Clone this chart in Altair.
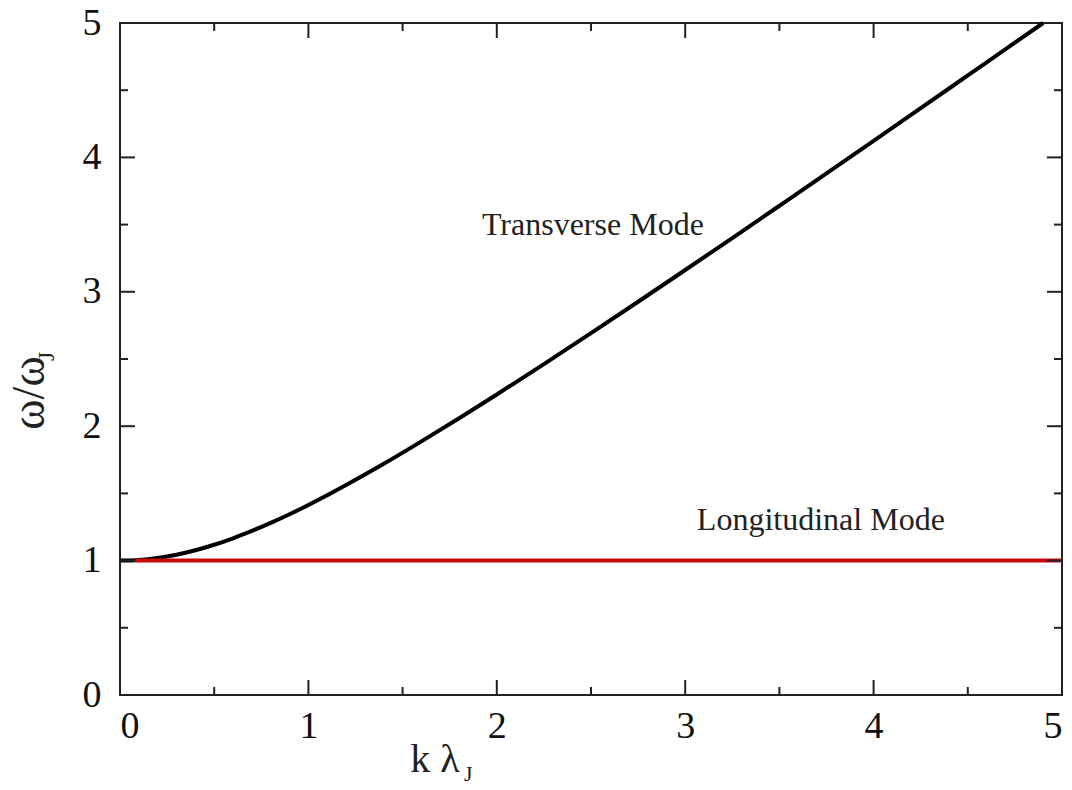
import altair as alt
import pandas as pd

# Dispersion relation omega/omega_J versus k*lambda_J
k_vals = [0.0, 0.1, 0.2, 0.3, 0.4, 0.5, 0.6, 0.7, 0.8, 0.9, 1.0, 1.1, 1.2, 1.4,
          1.6, 1.8, 2.0, 2.25, 2.5, 2.75, 3.0, 3.25, 3.5, 3.75, 4.0, 4.25, 4.5,
          4.75, 4.9]
transverse = [1.000, 1.005, 1.020, 1.044, 1.077, 1.118, 1.166, 1.221, 1.281,
              1.345, 1.414, 1.487, 1.562, 1.720, 1.887, 2.059, 2.236, 2.462,
              2.693, 2.926, 3.162, 3.400, 3.640, 3.881, 4.123, 4.366, 4.610,
              4.854, 5.000]
long_k = [0.08, 5.0]
longitudinal = [1.0, 1.0]

major_ticks = [0, 1, 2, 3, 4, 5]
minor_ticks = [0.5, 1.5, 2.5, 3.5, 4.5]

labels = ["Transverse Mode", "Longitudinal Mode"]
label_k = [2.51, 3.72]
label_w = [3.50, 1.30]

W, H = 942, 672
FONT = "Liberation Serif"

xs = alt.Scale(domain=[0, 5], nice=False, zero=False)
ys = alt.Scale(domain=[0, 5], nice=False, zero=False)

trans_df = pd.DataFrame({"k": k_vals, "w": transverse})
long_df = pd.DataFrame({"k": long_k, "w": longitudinal})
major_df = pd.DataFrame({"v": major_ticks})
minor_df = pd.DataFrame({"v": minor_ticks})
label_df = pd.DataFrame({"t": labels, "k": label_k, "w": label_w})

x_axis = alt.Axis(values=major_ticks, ticks=False, domain=False, grid=False,
                  labelFont=FONT, labelFontSize=38, labelColor="#111",
                  labelPadding=12, title=None, format="d")
y_axis = alt.Axis(values=major_ticks, ticks=False, domain=False, grid=False,
                  labelFont=FONT, labelFontSize=38, labelColor="#111",
                  labelPadding=19, title=None, format="d")

trans_line = alt.Chart(trans_df).mark_line(
    color="black", strokeWidth=4, interpolate="monotone"
).encode(
    x=alt.X("k:Q", scale=xs, axis=x_axis),
    y=alt.Y("w:Q", scale=ys, axis=y_axis),
)

long_line = alt.Chart(long_df).mark_line(color="#c8090e", strokeWidth=4).encode(
    x=alt.X("k:Q", scale=xs),
    y=alt.Y("w:Q", scale=ys),
)


def tick_layers(df, length):
    bottom = alt.Chart(df).mark_rule(color="#222", strokeWidth=2).encode(
        x=alt.X("v:Q", scale=xs), y=alt.value(H), y2=alt.value(H - length))
    top = alt.Chart(df).mark_rule(color="#222", strokeWidth=2).encode(
        x=alt.X("v:Q", scale=xs), y=alt.value(0), y2=alt.value(length))
    left = alt.Chart(df).mark_rule(color="#222", strokeWidth=2).encode(
        y=alt.Y("v:Q", scale=ys), x=alt.value(0), x2=alt.value(length))
    right = alt.Chart(df).mark_rule(color="#222", strokeWidth=2).encode(
        y=alt.Y("v:Q", scale=ys), x=alt.value(W), x2=alt.value(W - length))
    return [bottom, top, left, right]


mode_labels = alt.Chart(label_df).mark_text(
    font=FONT, fontSize=32, color="#222", align="center", baseline="middle"
).encode(
    x=alt.X("k:Q", scale=xs),
    y=alt.Y("w:Q", scale=ys),
    text="t:N",
)

# Axis titles with subscripts
title_df = pd.DataFrame({"a": [0]})
x_title = alt.Chart(title_df).mark_text(
    font=FONT, fontSize=40, color="#222", align="center", baseline="alphabetic"
).encode(x=alt.value(315), y=alt.value(749), text=alt.value("k λ"))
x_sub = alt.Chart(title_df).mark_text(
    font=FONT, fontSize=22, color="#222", align="left", baseline="alphabetic"
).encode(x=alt.value(344), y=alt.value(758), text=alt.value("J"))

y_title = alt.Chart(title_df).mark_text(
    font=FONT, fontSize=46, color="#222", align="center", baseline="alphabetic",
    angle=270
).encode(x=alt.value(-76), y=alt.value(370), text=alt.value("ω/ω"))
y_sub = alt.Chart(title_df).mark_text(
    font=FONT, fontSize=24, color="#222", align="left", baseline="alphabetic",
    angle=270
).encode(x=alt.value(-66), y=alt.value(338), text=alt.value("J"))

chart = alt.layer(
    trans_line, long_line,
    *tick_layers(major_df, 15), *tick_layers(minor_df, 8),
    mode_labels, x_title, x_sub, y_title, y_sub,
).properties(
    width=W, height=H,
    autosize=alt.AutoSizeParams(type="none"),
    padding={"left": 120, "top": 23, "right": 10, "bottom": 95},
    background="white",
).configure_view(stroke="#222", strokeWidth=2)

chart.save("out.html", embed_options={"renderer": "svg", "actions": False})
